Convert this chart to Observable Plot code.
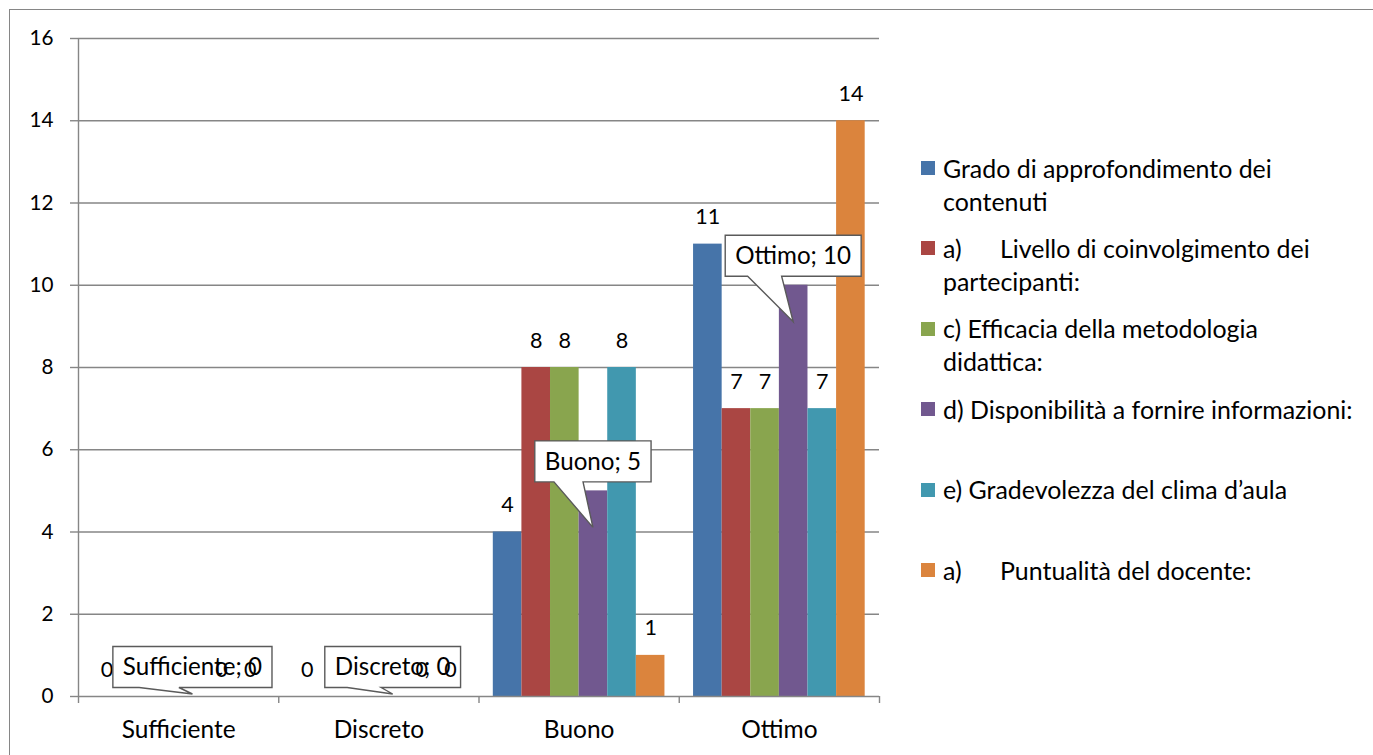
<!DOCTYPE html>
<html><head><meta charset="utf-8">
<script src="https://cdn.jsdelivr.net/npm/d3@7"></script>
<script src="https://cdn.jsdelivr.net/npm/@observablehq/plot@0.6"></script>
<style>
body{margin:0;background:#fff;font-family:Lato,sans-serif;}
#wrap{position:relative;width:1373px;height:755px;overflow:hidden;background:#fff;}
#chart{position:absolute;left:0;top:0;}
#border{position:absolute;left:9px;top:9px;width:2000px;height:2000px;border-left:1.5px solid #868686;border-top:1.5px solid #868686;pointer-events:none;}
#legend{position:absolute;left:921px;top:151.5px;}
.item{position:absolute;left:0;width:460px;}
.sw{position:absolute;left:0;top:9.5px;width:14px;height:14px;}
.tx{position:absolute;left:22px;white-space:pre;line-height:33px;color:#000;}
.tab{display:inline-block;width:57px;}
</style></head><body>
<div id="wrap"><div id="chart"></div><div id="border"></div><div id="legend"></div></div>
<script>
// ---- data ----
const categories = ["Sufficiente", "Discreto", "Buono", "Ottimo"];
const seriesNames = [
  "Grado di approfondimento dei\ncontenuti",
  "a)\tLivello di coinvolgimento dei\npartecipanti:",
  "c) Efficacia della metodologia\ndidattica:",
  "d) Disponibilità a fornire informazioni:",
  "e) Gradevolezza del clima d’aula",
  "a)\tPuntualità del docente:"
];
const seriesColors = ["#4674A9", "#AA4643", "#89A54E", "#71588F", "#4198AF", "#DB843D"];
const grado         = [0, 0, 4, 11];
const livello       = [0, 0, 8, 7];
const efficacia     = [0, 0, 8, 7];
const disponibilita = [0, 0, 5, 10];
const gradevolezza  = [0, 0, 8, 7];
const puntualita    = [0, 0, 1, 14];
const yTicks = [0, 2, 4, 6, 8, 10, 12, 14, 16];
const calloutSeries = 3; // series whose labels are callouts "Categoria; valore"

// ---- table ----
const seriesValues = [grado, livello, efficacia, disponibilita, gradevolezza, puntualita];
const rows = seriesValues.flatMap((vals, si) => vals.map((value, ci) => ({ci, si, cat: categories[ci], series: seriesNames[si], value})));
const nSlots = seriesNames.length + 1;
const xc = d => d.ci + (d.si + 1) / nSlots;

// ---- font fitting ----
const FONT = "Lato";
const ctx = document.createElement("canvas").getContext("2d");
function fit(sample, target) { ctx.font = `100px ${FONT}`; return 100 * target / ctx.measureText(sample).width; }
const tickFs = fit("16", 24), labelFs = fit("14", 25), catFs = fit("Sufficiente", 114),
      legendFs = fit("Grado di approfondimento dei", 329), calloutFs = fit("Ottimo; 10", 116);

const GRAY = "#868686";
const labelRows = rows.filter(d => d.si !== calloutSeries);
const below = labelRows.filter(d => d.si < calloutSeries), above = labelRows.filter(d => d.si > calloutSeries);
const labelMark = data =>
  Plot.text(data, {x: xc, y: "value", text: d => String(d.value), lineAnchor: "bottom", dy: -20, fontSize: labelFs, fill: "#000"});

function callouts(index, scales) {
  const g = d3.create("svg:g");
  ctx.font = `${calloutFs}px ${FONT}`;
  for (const d of rows.filter(r => r.si === calloutSeries)) {
    const cx = scales.x(xc(d)), top = scales.y(d.value), y0 = scales.y(0);
    const text = `${d.cat}; ${d.value}`;
    const w = ctx.measureText(text).width + 20, h = 41;
    const bx = cx - w / 2, by2 = top - 8.5, by1 = by2 - h;
    const tipY = Math.min(top + 37, y0 - 2);
    const bl = bx + 0.165 * w, br = bx + 0.415 * w;
    g.append("path")
      .attr("d", `M${bx},${by1}H${bx + w}V${by2}H${br}L${cx},${tipY}L${bl},${by2}H${bx}Z`)
      .attr("fill", "#fff").attr("stroke", "#5a5a5a").attr("stroke-width", 1.4).attr("stroke-linejoin", "miter");
    g.append("text").attr("x", cx).attr("y", (by1 + by2) / 2).attr("dy", "0.35em")
      .attr("text-anchor", "middle").attr("font-size", calloutFs).attr("fill", "#000").text(text);
  }
  return g.node();
}

const plot = Plot.plot({
  width: 1373, height: 755,
  marginLeft: 78, marginRight: 494, marginTop: 38, marginBottom: 59,
  style: {fontFamily: FONT, background: "transparent", overflow: "visible"},
  x: {domain: [0, categories.length], axis: null},
  y: {domain: [0, 16], axis: null},
  color: {domain: seriesNames, range: seriesColors},
  marks: [
    Plot.gridY(yTicks.slice(1), {stroke: GRAY, strokeOpacity: 1, strokeWidth: 1.4}),
    Plot.axisY(yTicks, {tickSize: 8, tickPadding: 17, stroke: GRAY, strokeWidth: 1.4, strokeOpacity: 1, fill: "#000", fontSize: tickFs, label: null}),
    Plot.axisX(d3.range(categories.length + 1), {tickSize: 7, tickFormat: () => "", stroke: GRAY, strokeWidth: 1.4, strokeOpacity: 1, label: null}),
    Plot.ruleX([0], {y1: 0, y2: 16, stroke: GRAY, strokeWidth: 1.4}),
    Plot.rect(rows, {x1: d => d.ci + (d.si + 0.5) / nSlots, x2: d => d.ci + (d.si + 1.5) / nSlots, y1: 0, y2: "value", fill: "series"}),
    Plot.ruleY([0], {stroke: GRAY, strokeWidth: 1.4}),
    Plot.text(categories, {x: (d, i) => i + 0.5, y: () => 0, text: d => d, lineAnchor: "bottom", dy: 41, fontSize: catFs, fill: "#000"}),
    labelMark(below),
    callouts,
    labelMark(above)
  ]
});
document.getElementById("chart").appendChild(plot);

// ---- legend ----
const legend = document.getElementById("legend");
seriesNames.forEach((name, i) => {
  const item = document.createElement("div");
  item.className = "item";
  item.style.top = (i * 80.4) + "px";
  const sw = document.createElement("div");
  sw.className = "sw"; sw.style.background = seriesColors[i];
  item.appendChild(sw);
  const tx = document.createElement("div");
  tx.className = "tx"; tx.style.fontSize = legendFs + "px"; tx.style.fontFamily = FONT;
  name.split("\n").forEach((line, li) => {
    const ln = document.createElement("div");
    const parts = line.split("\t");
    if (parts.length > 1) {
      const t = document.createElement("span"); t.className = "tab"; t.textContent = parts[0];
      ln.appendChild(t); ln.appendChild(document.createTextNode(parts.slice(1).join(" ")));
    } else ln.textContent = line;
    tx.appendChild(ln);
  });
  item.appendChild(tx);
  legend.appendChild(item);
});
</script>
</body></html>
